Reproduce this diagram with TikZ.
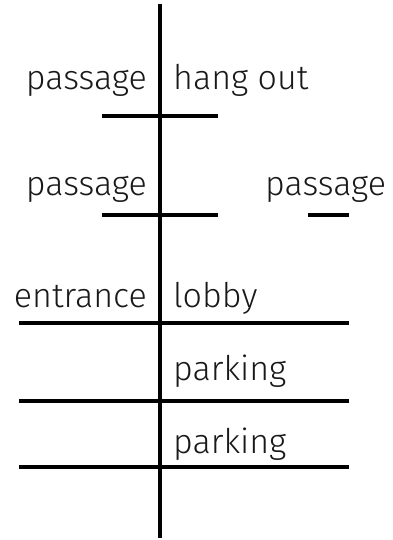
\documentclass[tikz,border=0pt]{standalone}
\usepackage{fontspec}
\setmainfont{Fira Sans Light}
\begin{document}
\begin{tikzpicture}[x=1pt,y=-1pt,
  wall/.style={line width=4pt,black},
  lbl/.style={inner sep=0pt,font=\fontsize{34}{40}\selectfont,text=black!90},
  lft/.style={lbl,anchor=base east},
  rgt/.style={lbl,anchor=base west}]
\useasboundingbox (0,0) rectangle (392,540);
% spine
\coordinate (top) at (160,4);
\coordinate (bot) at (160,538);
\draw[wall] (top) -- (bot);
% floors
\coordinate (f1a) at (102,116); \coordinate (f1b) at (218,116);
\coordinate (f2a) at (102,215); \coordinate (f2b) at (218,215);
\coordinate (f2c) at (308,215); \coordinate (f2d) at (349,215);
\coordinate (f3a) at (19,323);  \coordinate (f3b) at (349,323);
\coordinate (f4a) at (19,401);  \coordinate (f4b) at (349,401);
\coordinate (f5a) at (19,467);  \coordinate (f5b) at (349,467);
\draw[wall] (f1a) -- (f1b);
\draw[wall] (f2a) -- (f2b);
\draw[wall] (f2c) -- (f2d);
\draw[wall] (f3a) -- (f3b);
\draw[wall] (f4a) -- (f4b);
\draw[wall] (f5a) -- (f5b);
% labels
\node[lft] (p1) at (147,90) {passage};
\node[rgt] (h1) at (173,90) {hang out};
\node[lft] (p2) at (147,195) {passage};
\node[rgt] (p3) at (265,195) {passage};
\node[lft] (e1) at (147,307) {entrance};
\node[rgt] (l1) at (173,307) {lobby};
\node[rgt] (k1) at (173,380) {parking};
\node[rgt] (k2) at (173,453) {parking};
\end{tikzpicture}
\end{document}
